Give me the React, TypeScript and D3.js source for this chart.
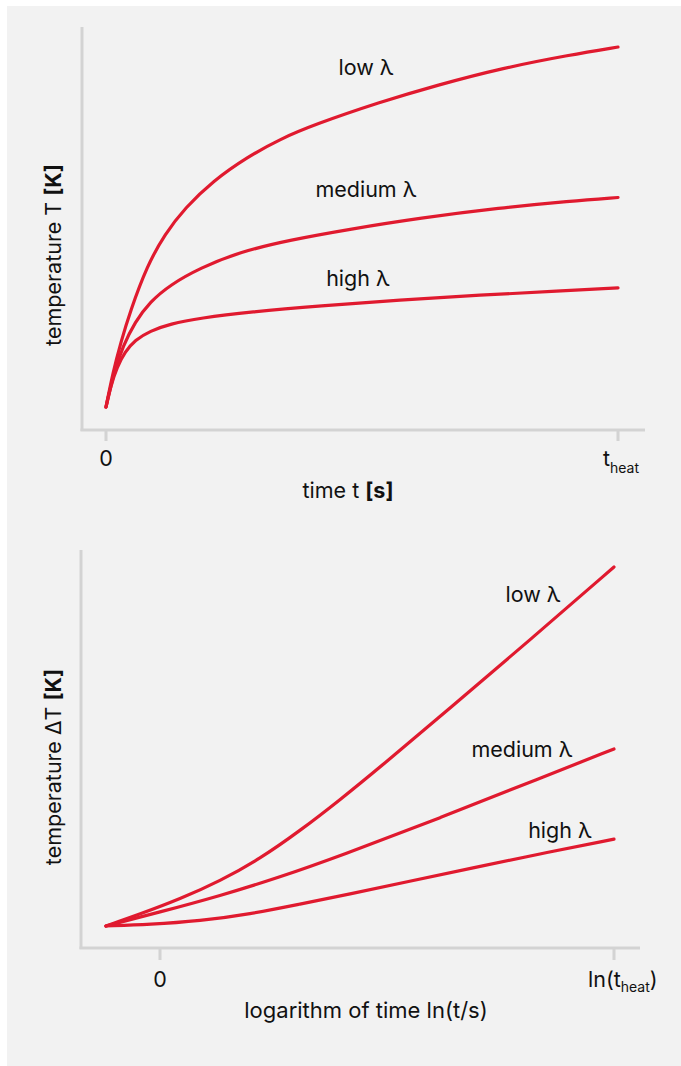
import React from "react";
import * as d3 from "d3";

// top chart: time t (0..t_heat as 0..1) vs temperature T (arbitrary units)
const lowTime = [0, 0.0137, 0.0293, 0.0469, 0.0801, 0.1152, 0.1543, 0.209, 0.2754, 0.3398, 0.4043, 0.5352, 0.6465, 0.7754, 0.9063, 1];
const lowT = [0, 9.7, 18.1, 26.4, 39.2, 48.1, 55.3, 62.8, 69.4, 74.4, 78.3, 84.7, 89.4, 94.2, 97.8, 100];
const medTime = [0, 0.0156, 0.0332, 0.0566, 0.0859, 0.125, 0.1836, 0.2617, 0.3594, 0.4766, 0.6133, 0.7695, 0.9063, 1];
const medT = [0, 9.7, 16.9, 23.6, 29.2, 33.9, 38.6, 43.1, 46.4, 49.4, 52.5, 55.3, 57.2, 58.2];
const highTime = [0, 0.0098, 0.0215, 0.0371, 0.0566, 0.0859, 0.125, 0.1836, 0.2813, 0.418, 0.5742, 0.7305, 0.8867, 1];
const highT = [0, 6.1, 11.1, 15.3, 18.6, 21.1, 23.1, 24.7, 26.4, 28.1, 29.7, 31.1, 32.2, 33.1];

// bottom chart: ln(t) (0 .. ln(t_heat) as 0..1) vs ΔT
const lowLn = [-0.119, -0.044, 0.044, 0.132, 0.22, 0.308, 0.396, 0.485, 0.639, 0.815, 1];
const lowDT = [0, 3.3, 7.5, 12.5, 18.7, 26.5, 35.1, 44.3, 60.7, 79.7, 100];
const medLn = [-0.119, 0, 0.132, 0.264, 0.396, 0.617, 0.837, 1];
const medDT = [0, 3.9, 8.4, 13.6, 19.5, 30.1, 41.2, 49.3];
const highLn = [-0.119, -0.022, 0.088, 0.198, 0.308, 0.419, 0.544, 0.689, 0.837, 1];
const highDT = [0, 0.4, 1.4, 3.3, 6.1, 8.9, 12.3, 16.2, 20.1, 24.2];

const seriesNames = ["low λ", "medium λ", "high λ"];

const RED = "#e01a2f";
const AXIS = "#d3d3d3";
const FONT = "Inter, 'Noto Sans', sans-serif";

type Pt = [number, number];
const zip = (xs: number[], ys: number[]): Pt[] => xs.map((x, i) => [x, ys[i]]);

const App: React.FC = () => {
  // top scales
  const x1 = d3.scaleLinear().domain([0, 1]).range([106, 618]);
  const y1 = d3.scaleLinear().domain([0, 100]).range([407, 47]);
  // bottom scales
  const x2 = d3.scaleLinear().domain([0, 1]).range([160, 614]);
  const y2 = d3.scaleLinear().domain([0, 100]).range([926, 567]);

  const line1 = d3
    .line<Pt>()
    .x((d) => x1(d[0]))
    .y((d) => y1(d[1]))
    .curve(d3.curveBasis);
  const line2 = d3
    .line<Pt>()
    .x((d) => x2(d[0]))
    .y((d) => y2(d[1]))
    .curve(d3.curveBasis);

  const top = [zip(lowTime, lowT), zip(medTime, medT), zip(highTime, highT)];
  const bottom = [zip(lowLn, lowDT), zip(medLn, medDT), zip(highLn, highDT)];

  // label placement (centre x, baseline y) in pixels
  const topLabels: Pt[] = [
    [366, 75],
    [366, 197],
    [358, 286],
  ];
  const botLabels: Pt[] = [
    [533, 602],
    [522, 757],
    [560, 838],
  ];

  const textStyle = { fontFamily: FONT, fontSize: 21.5, fill: "#111" };

  return (
    <svg
      width={681}
      height={1066}
      style={{ position: "absolute", left: 0, top: 0 }}
    >
      <rect x={0} y={0} width={681} height={1066} fill="#fff" />
      <rect x={7} y={6} width={674} height={1060} fill="#f2f2f2" />

      {/* ---------- top chart ---------- */}
      <g>
        <line x1={82} x2={82} y1={27} y2={431} stroke={AXIS} strokeWidth={3} />
        <line x1={80.5} x2={645} y1={430} y2={430} stroke={AXIS} strokeWidth={3} />
        {[0, 1].map((v) => (
          <line
            key={v}
            x1={x1(v)}
            x2={x1(v)}
            y1={430}
            y2={441}
            stroke={AXIS}
            strokeWidth={3}
          />
        ))}
        {top.map((d, i) => (
          <path
            key={i}
            d={line1(d) || ""}
            fill="none"
            stroke={RED}
            strokeWidth={3.2}
            strokeLinecap="round"
          />
        ))}
        {seriesNames.map((n, i) => (
          <text
            key={n}
            x={topLabels[i][0]}
            y={topLabels[i][1]}
            textAnchor="middle"
            style={textStyle}
          >
            {n}
          </text>
        ))}
        <text x={x1(0)} y={466} textAnchor="middle" style={textStyle}>
          0
        </text>
        <text x={603} y={466} style={textStyle}>
          t
          <tspan dy={7} style={{ fontSize: 14 }}>
            heat
          </tspan>
        </text>
        <text x={348} y={498} textAnchor="middle" style={textStyle}>
          time t <tspan fontWeight="bold">[s]</tspan>
        </text>
        <text
          transform="translate(61,255) rotate(-90)"
          textAnchor="middle"
          style={textStyle}
        >
          temperature T <tspan fontWeight="bold">[K]</tspan>
        </text>
      </g>

      {/* ---------- bottom chart ---------- */}
      <g>
        <line x1={81} x2={81} y1={550} y2={949} stroke={AXIS} strokeWidth={3} />
        <line x1={79.5} x2={640} y1={948} y2={948} stroke={AXIS} strokeWidth={3} />
        {[0, 1].map((v) => (
          <line
            key={v}
            x1={x2(v)}
            x2={x2(v)}
            y1={948}
            y2={960}
            stroke={AXIS}
            strokeWidth={3}
          />
        ))}
        {bottom.map((d, i) => (
          <path
            key={i}
            d={line2(d) || ""}
            fill="none"
            stroke={RED}
            strokeWidth={3.2}
            strokeLinecap="round"
          />
        ))}
        {seriesNames.map((n, i) => (
          <text
            key={n}
            x={botLabels[i][0]}
            y={botLabels[i][1]}
            textAnchor="middle"
            style={textStyle}
          >
            {n}
          </text>
        ))}
        <text x={x2(0)} y={987} textAnchor="middle" style={textStyle}>
          0
        </text>
        <text x={588} y={987} style={textStyle}>
          ln(t
          <tspan dy={5} style={{ fontSize: 14 }}>
            heat
          </tspan>
          <tspan dy={-5}>)</tspan>
        </text>
        <text x={366} y={1018} textAnchor="middle" style={{ ...textStyle, fontSize: 22 }}>
          logarithm of time ln(t/s)
        </text>
        <text
          transform="translate(61,767) rotate(-90)"
          textAnchor="middle"
          style={textStyle}
        >
          temperature ΔT <tspan fontWeight="bold">[K]</tspan>
        </text>
      </g>
    </svg>
  );
};

export default App;
